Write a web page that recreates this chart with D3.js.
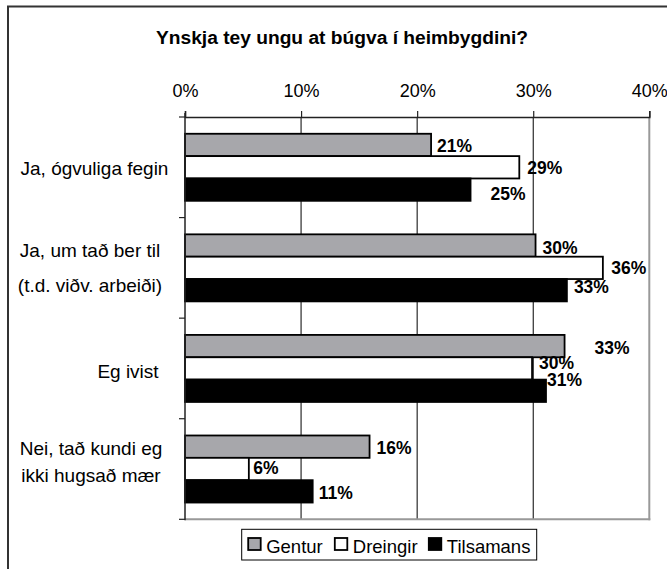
<!DOCTYPE html>
<html>
<head>
<meta charset="utf-8">
<script src="https://cdn.jsdelivr.net/npm/d3@7"></script>
<style>
  html, body { margin: 0; padding: 0; background: #fff; }
  svg { display: block; font-family: "Liberation Sans", Arial, sans-serif; }
</style>
</head>
<body>
<svg id="chart" width="667" height="569"></svg>
<script>
// ---- data ----
const title = "Ynskja tey ungu at búgva í heimbygdini?";
const categories = ["Ja, ógvuliga fegin", "Ja, um tað ber til (t.d. viðv. arbeiði)", "Eg ivist", "Nei, tað kundi eg ikki hugsað mær"];
const categoryLines = [["Ja, ógvuliga fegin"], ["Ja, um tað ber til", "(t.d. viðv. arbeiði)"], ["Eg ivist"], ["Nei, tað kundi eg", "ikki hugsað mær"]];
const seriesNames = ["Gentur", "Dreingir", "Tilsamans"];
const gentur    = [21.2, 30.2, 32.7, 15.9];
const dreingir  = [28.8, 36.0, 29.9, 5.5];
const tilsamans = [24.6, 32.9, 31.1, 11.0];
const genturLabels    = ["21%", "30%", "33%", "16%"];
const dreingirLabels  = ["29%", "36%", "30%", "6%"];
const tilsamansLabels = ["25%", "33%", "31%", "11%"];
const tickValues = [0, 10, 20, 30, 40];

// ---- layout / style (not data) ----
const colors = ["#a7a7ab", "#ffffff", "#000000"];
// label nudges [dx from bar end, dy from bar centre], per series per category
const labelNudge = [
  [[6, 1], [7, 2.5], [30, 2], [7, 1.3]],
  [[8, 0.7], [8.5, 0], [7, -5.7], [4.5, -1]],
  [[20, 4.4], [7, -4], [1, -10.8], [6, 1.3]]
];
const catLabelX = [94.5, 90, 128, 91];
const catLineBaselines = [[175], [257, 292], [377.5], [454.5, 481.5]];

const svg = d3.select("#chart");
const font = "Liberation Sans, Arial, sans-serif";

const L = 185, R = 649.3, T = 117, B = 519.3;

// outer frame (right / bottom fall outside the picture)
svg.append("rect").attr("x", 8).attr("y", 6.5).attr("width", 700).attr("height", 600)
  .attr("fill", "none").attr("stroke", "#333").attr("stroke-width", 2);

svg.append("text").attr("x", 342).attr("y", 43.5).attr("text-anchor", "middle")
  .attr("font-size", 19.2).attr("font-weight", "bold").attr("fill", "#000").text(title);

const x = d3.scaleLinear().domain([0, 40]).range([L, R]);
const y0 = d3.scaleBand().domain(categories).range([T, B]).padding(0);
const y1 = d3.scaleBand().domain(seriesNames).range([0, y0.bandwidth()]).paddingInner(0).paddingOuter(0.75);

// gridlines
svg.append("g").selectAll("line").data([10, 20, 30]).join("line")
  .attr("x1", d => x(d)).attr("x2", d => x(d)).attr("y1", T).attr("y2", B)
  .attr("stroke", "#000").attr("stroke-width", 1);

// plot border right/bottom (gray)
svg.append("line").attr("x1", R).attr("x2", R).attr("y1", T).attr("y2", B + 1)
  .attr("stroke", "#999").attr("stroke-width", 2);
svg.append("line").attr("x1", L).attr("x2", R + 1).attr("y1", B).attr("y2", B)
  .attr("stroke", "#999").attr("stroke-width", 2);

// bars
const seriesData = [gentur, dreingir, tilsamans];
const seriesLabels = [genturLabels, dreingirLabels, tilsamansLabels];
seriesNames.forEach((s, si) => {
  const g = svg.append("g");
  g.selectAll("rect").data(categories).join("rect")
    .attr("x", x(0))
    .attr("y", c => y0(c) + y1(s))
    .attr("width", (c, i) => x(seriesData[si][i]) - x(0))
    .attr("height", y1.bandwidth())
    .attr("fill", colors[si]).attr("stroke", "#000").attr("stroke-width", 1.8);
});

// top axis
const axTop = svg.append("g").attr("transform", `translate(0,${T})`)
  .call(d3.axisTop(x).tickValues(tickValues).tickSize(6).tickPadding(14).tickFormat(d => d + "%"));
axTop.select(".domain").attr("stroke", "#222").attr("stroke-width", 1.5);
axTop.selectAll(".tick line").attr("stroke", "#222").attr("stroke-width", 1.2);
axTop.selectAll(".tick text").attr("font-size", 18).attr("font-family", font).attr("fill", "#000");

// left axis line + boundary ticks
svg.append("line").attr("x1", L).attr("x2", L).attr("y1", T - 4).attr("y2", B + 1)
  .attr("stroke", "#222").attr("stroke-width", 1.5);
const bounds = categories.map(c => y0(c)).concat([B]);
svg.append("g").selectAll("line").data(bounds).join("line")
  .attr("x1", L - 6).attr("x2", L).attr("y1", d => d).attr("y2", d => d)
  .attr("stroke", "#222").attr("stroke-width", 1.2);

// category labels
categoryLines.forEach((lines, ci) => {
  lines.forEach((ln, li) => {
    svg.append("text").attr("x", catLabelX[ci]).attr("y", catLineBaselines[ci][li])
      .attr("text-anchor", "middle").attr("font-size", 19).attr("fill", "#000").text(ln);
  });
});

// data labels
seriesNames.forEach((s, si) => {
  svg.append("g").selectAll("text").data(categories).join("text")
    .attr("x", (c, i) => x(seriesData[si][i]) + labelNudge[si][i][0])
    .attr("y", (c, i) => y0(c) + y1(s) + y1.bandwidth() / 2 + labelNudge[si][i][1] + 6.3)
    .attr("font-size", 17.5).attr("font-weight", "bold").attr("fill", "#000")
    .text((c, i) => seriesLabels[si][i]);
});

// legend
const lg = svg.append("g");
lg.append("rect").attr("x", 241.7).attr("y", 529.3).attr("width", 295).attr("height", 30.7)
  .attr("fill", "#fff").attr("stroke", "#000").attr("stroke-width", 1);
const legendX = [247.7, 334.3, 428.3];
seriesNames.forEach((s, si) => {
  lg.append("rect").attr("x", legendX[si] + 0.5).attr("y", 538).attr("width", 12.5).attr("height", 12)
    .attr("fill", colors[si]).attr("stroke", "#000").attr("stroke-width", 1.8);
  lg.append("text").attr("x", legendX[si] + 18.5).attr("y", 552.5)
    .attr("font-size", 18.5).attr("fill", "#000").text(s);
});
</script>
</body>
</html>
